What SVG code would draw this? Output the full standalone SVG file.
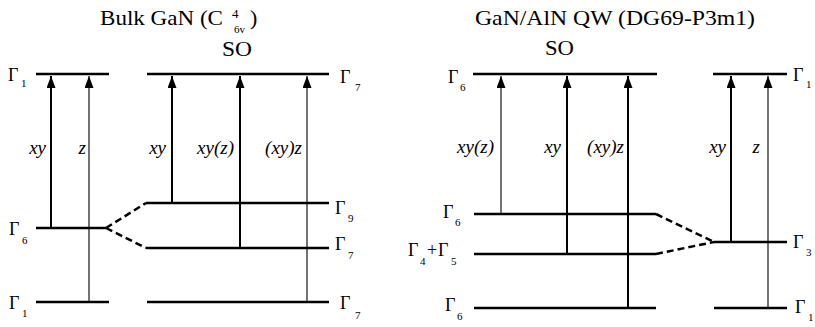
<svg xmlns="http://www.w3.org/2000/svg" width="815" height="327" viewBox="0 0 815 327">
<style>
.t{font-size:22px}
.g{font-size:18px}
.s{font-size:11px}
.i{font-size:19px;font-style:italic;text-anchor:end}
.lv{stroke:#000;stroke-width:2.5;fill:none}
.d{stroke:#000;stroke-width:2.5;stroke-dasharray:7 4;fill:none}
.a{stroke:#000;stroke-width:2;fill:none;marker-end:url(#ah)}
.an{stroke:#000;stroke-width:1.1;fill:none;marker-end:url(#ah)}
</style>
<defs>
<marker id="ah" markerUnits="userSpaceOnUse" markerWidth="13" markerHeight="10" refX="12" refY="4.5" orient="auto">
<path d="M0,0 L12,4.5 L0,9 z" fill="#000"/>
</marker>
</defs>
<g font-family="Liberation Serif, DejaVu Serif, Times New Roman, Times, serif" fill="#000">
<g id="titles">
<text class="t" x="100" y="25" textLength="123" lengthAdjust="spacingAndGlyphs">Bulk GaN (C</text>
<text x="232" y="18" font-size="13">4</text>
<text x="234" y="33" font-size="11">6v</text>
<text class="t" x="250" y="25">)</text>
<text class="t" x="222" y="56" textLength="30" lengthAdjust="spacingAndGlyphs">SO</text>
<text class="t" x="475" y="25" textLength="280" lengthAdjust="spacingAndGlyphs">GaN/AlN QW (DG69-P3m1)</text>
<text class="t" x="545" y="55" textLength="29" lengthAdjust="spacingAndGlyphs">SO</text>
</g>

<g id="bulk-G1-top"><line class="lv" x1="36" y1="74" x2="109" y2="74"/><text class="g" x="8" y="81">Γ</text><text class="s" x="21" y="87">1</text></g>
<g id="bulk-G7-top"><line class="lv" x1="147" y1="74" x2="329" y2="74"/><text class="g" x="340" y="83">Γ</text><text class="s" x="355" y="91">7</text></g>
<g id="bulk-G6"><line class="lv" x1="36" y1="228" x2="106" y2="228"/><text class="g" x="9" y="235">Γ</text><text class="s" x="22" y="244">6</text></g>
<g id="bulk-G9"><line class="lv" x1="146" y1="203" x2="329" y2="203"/><text class="g" x="335" y="214">Γ</text><text class="s" x="348" y="222">9</text></g>
<g id="bulk-G7-mid"><line class="lv" x1="146" y1="248" x2="329" y2="248"/><text class="g" x="335" y="250">Γ</text><text class="s" x="348" y="259">7</text></g>
<g id="bulk-G1-bot"><line class="lv" x1="36" y1="302" x2="109" y2="302"/><text class="g" x="9" y="309">Γ</text><text class="s" x="22" y="317">1</text></g>
<g id="bulk-G7-bot"><line class="lv" x1="147" y1="302" x2="329" y2="302"/><text class="g" x="340" y="309">Γ</text><text class="s" x="355" y="319">7</text></g>

<g id="qw-G6-top"><line class="lv" x1="473" y1="74" x2="657" y2="74"/><text class="g" x="448" y="83">Γ</text><text class="s" x="460" y="91">6</text></g>
<g id="qw-G1-top"><line class="lv" x1="713" y1="74" x2="787" y2="74"/><text class="g" x="793" y="81">Γ</text><text class="s" x="806" y="88">1</text></g>
<g id="qw-G6-mid"><line class="lv" x1="474" y1="214" x2="656" y2="214"/><text class="g" x="443" y="218">Γ</text><text class="s" x="455" y="226">6</text></g>
<g id="qw-G45"><line class="lv" x1="474" y1="254" x2="656" y2="254"/><text class="g" x="408" y="256">Γ</text><text class="s" x="420" y="265">4</text><text class="g" x="427" y="256">+</text><text class="g" x="438" y="256">Γ</text><text class="s" x="451" y="265">5</text></g>
<g id="qw-G3"><line class="lv" x1="714" y1="242" x2="787" y2="242"/><text class="g" x="793" y="248">Γ</text><text class="s" x="806" y="256">3</text></g>
<g id="qw-G6-bot"><line class="lv" x1="474" y1="308" x2="656" y2="308"/><text class="g" x="445" y="311">Γ</text><text class="s" x="457" y="320">6</text></g>
<g id="qw-G1-bot"><line class="lv" x1="714" y1="308" x2="787" y2="308"/><text class="g" x="795" y="313">Γ</text><text class="s" x="808" y="321">1</text></g>

<g id="labels">
<text class="i" x="46" y="154">xy</text>
<text class="i" x="86" y="154">z</text>
<text class="i" x="166" y="154">xy</text>
<text class="i" x="234" y="154">xy(z)</text>
<text class="i" x="302" y="154">(xy)z</text>
<text class="i" x="494" y="153">xy(z)</text>
<text class="i" x="561" y="153">xy</text>
<text class="i" x="624" y="153">(xy)z</text>
<text class="i" x="726" y="153">xy</text>
<text class="i" x="760" y="153">z</text>
</g>
</g>

<g id="connectors">
<line class="d" x1="106" y1="228" x2="146" y2="203"/>
<line class="d" x1="106" y1="228" x2="146" y2="248"/>
<line class="d" x1="656" y1="214" x2="714" y2="242"/>
<line class="d" x1="656" y1="254" x2="714" y2="242"/>
<line class="a" x1="51" y1="228" x2="51" y2="76"/>
<line class="an" x1="89" y1="302" x2="89" y2="76"/>
<line class="a" x1="172" y1="203" x2="172" y2="76"/>
<line class="a" x1="240" y1="248" x2="240" y2="76"/>
<line class="an" x1="307" y1="302" x2="307" y2="76"/>
<line class="an" x1="501" y1="214" x2="501" y2="76"/>
<line class="a" x1="567" y1="254" x2="567" y2="76"/>
<line class="a" x1="628" y1="308" x2="628" y2="76"/>
<line class="a" x1="731" y1="242" x2="731" y2="76"/>
<line class="an" x1="768" y1="308" x2="768" y2="76"/>
</g>
</svg>
